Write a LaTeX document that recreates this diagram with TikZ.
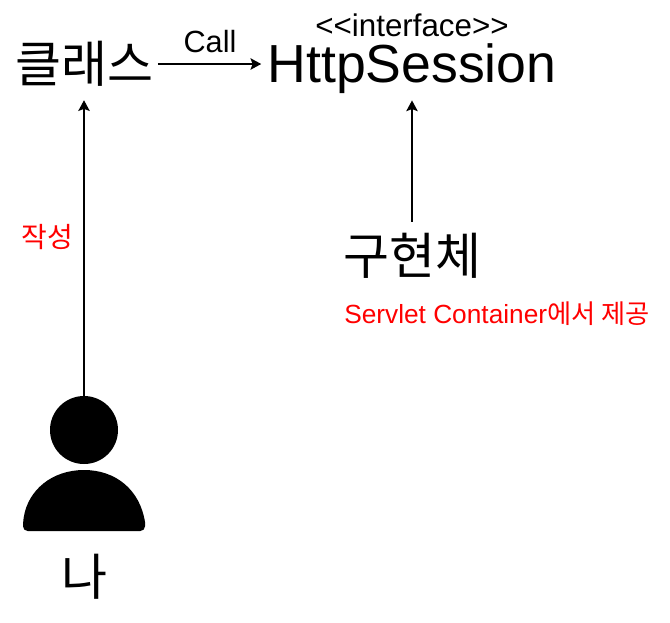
\documentclass[tikz,border=0pt]{standalone}
\usepackage{fontspec}
\setmainfont{Liberation Sans}
\newfontfamily\cjk{Noto Sans CJK KR}
\usetikzlibrary{arrows.meta}
\tikzset{
	bigtext/.style = {inner sep = 0pt, font = \fontsize{40.2}{40.2}\selectfont},
	korean/.style = {inner sep = 0pt, font = \fontsize{37.5}{37.5}\selectfont\cjk},
	redtext/.style = {inner sep = 0pt, text = red, font = \fontsize{19.7}{19.7}\selectfont},
	blacktext/.style = {inner sep = 0pt, font = \fontsize{23}{23}\selectfont},
	arrowline/.style = {-{Stealth[length = 8pt, width = 8.5pt, inset = 1.5pt]}, line width = 1.4pt}
}
\begin{document}
\begin{tikzpicture}[x = 0.75pt, y = -0.75pt]
		\useasboundingbox (0, 0) rectangle (670, 622);
		%%%%%%%%%%%%%
		\node [korean] (class) at (84, 64) {클래스};
		\node [bigtext] (session) at (412, 68.5) {HttpSession};
		\node [blacktext, font = \fontsize{23.5}{23.5}\selectfont] (iface) at (412, 25) {{<}{<}interface{>}{>}};
		\node [blacktext] (call) at (210, 42) {Call};
		\node [korean] (impl) at (412, 256) {구현체};
		\node [redtext] (provide) at (497, 314) {Servlet Container{\cjk 에서 제공}};
		\node [redtext, font = \fontsize{21}{21}\selectfont\cjk] (write) at (47, 237) {작성};
		\node [korean] (me) at (84, 577) {나};
		%%%%%%%%%%%%%
		\node [circle, fill, inner sep = 0pt, minimum size = 51pt] (head) at (84, 430) {};
		\fill [rounded corners = 3.5pt] (23, 531) -- (23, 522) [sharp corners] .. controls (28, 490) and (52, 470) .. (84, 470) .. controls (116, 470) and (140, 490) .. (145, 522) [rounded corners = 3.5pt] -- (145, 531) -- cycle;
		%%%%%%%%%%%%%
		\draw [arrowline, shorten <= 3.5pt, shorten >= 4.5pt] (class.east) to (class.east -| session.west);
		\draw [arrowline, shorten >= 10pt] (head.north) to (head.north |- class.south);
		\draw [arrowline, shorten <= 8.5pt, shorten >= 5pt] (impl.north) to (impl.north |- session.south);
\end{tikzpicture}
\end{document}
